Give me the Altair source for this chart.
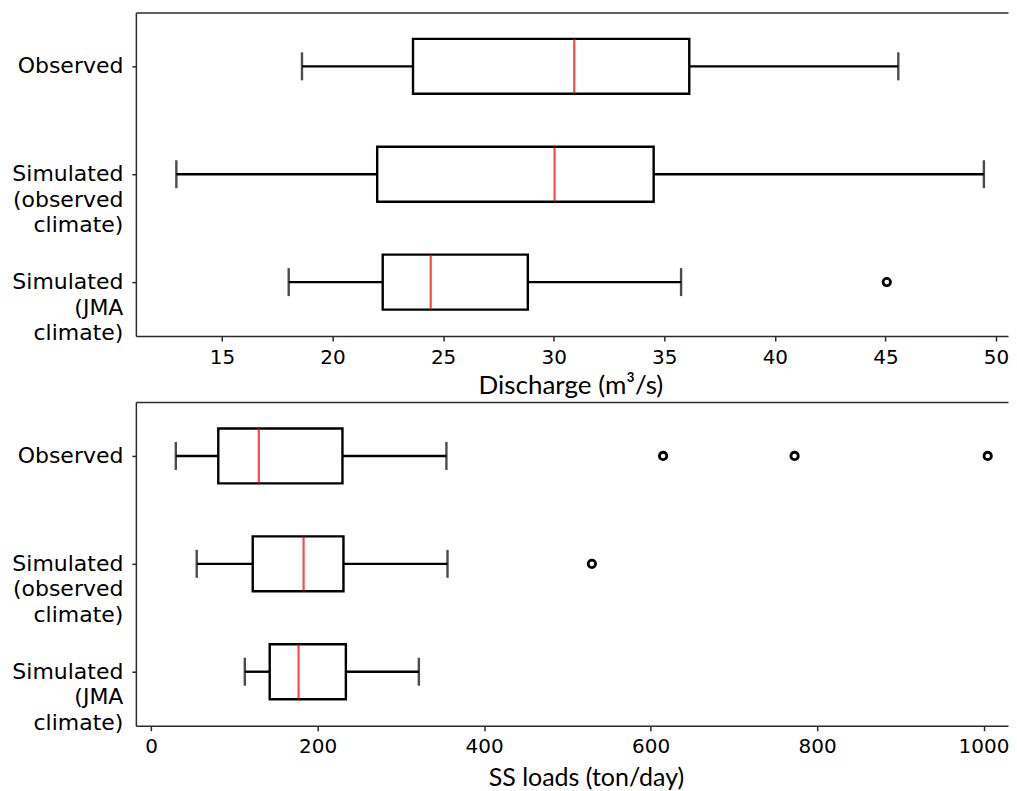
import altair as alt
import pandas as pd

groups = ["Observed", "Simulated (observed climate)", "Simulated (JMA climate)"]

# Discharge (m3/s): whisker low, Q1, median, Q3, whisker high
q_lo = [18.62, 12.94, 18.02]
q_q1 = [23.64, 22.02, 22.27]
q_med = [30.93, 30.04, 24.44]
q_q3 = [36.13, 34.52, 28.83]
q_hi = [45.58, 49.45, 35.76]
q_out_group = ["Simulated (JMA climate)"]
q_out_value = [45.06]
q_ticks = [15, 20, 25, 30, 35, 40, 45, 50]

# SS loads (ton/day)
s_lo = [29.6, 54.7, 112.5]
s_q1 = [80.6, 122.0, 142.4]
s_med = [129.3, 183.1, 177.1]
s_q3 = [229.8, 231.0, 233.9]
s_hi = [354.7, 356.0, 321.6]
s_out_group = ["Observed", "Observed", "Observed", "Simulated (observed climate)"]
s_out_value = [615.0, 773.0, 1005.0, 529.5]
s_ticks = [0, 200, 400, 600, 800, 1000]

PLOT_W = 873
PLOT_H = 324
FRAME = "#2b2b2b"
LW = 2.4


def panel(lo, q1, med, q3, hi, out_g, out_v, domain, ticks, title, title_pad, title_x, title_size):
    stats = pd.DataFrame({"group": groups, "lo": lo, "q1": q1, "med": med, "q3": q3, "hi": hi})
    outl = pd.DataFrame({"group": out_g, "value": out_v})
    xs = alt.Scale(domain=domain, nice=False, zero=False)
    xaxis = alt.Axis(
        values=ticks, format="d", title=title, titlePadding=title_pad, titleX=title_x,
        titleAlign="center", titleFont="Lato", titleFontSize=title_size, titleFontWeight="normal",
        titleColor="black", labelFont="DejaVu Sans", labelFontSize=20, labelColor="black",
        labelPadding=6, tickSize=5, tickWidth=1.5, tickColor=FRAME, domainColor=FRAME,
        domainWidth=1.5, grid=False, labelFlush=False,
    )
    yaxis = alt.Axis(
        title=None, labelExpr="split(datum.label, ' ')", labelFont="DejaVu Sans",
        labelFontSize=22, labelLineHeight=25.5, labelColor="black", labelPadding=9,
        tickSize=4, tickWidth=1.5, tickColor=FRAME, domainColor=FRAME, domainWidth=1.5,
        grid=False,
    )
    y = alt.Y("group:N", sort=groups,
              scale=alt.Scale(domain=groups, paddingInner=0, paddingOuter=0), axis=yaxis)

    def X(f):
        return alt.X(f, scale=xs, axis=xaxis)

    base = alt.Chart(stats)
    w1 = base.mark_rule(color="black", strokeWidth=LW).encode(x=X("lo:Q"), x2="q1:Q", y=y)
    w2 = base.mark_rule(color="black", strokeWidth=LW).encode(x=X("q3:Q"), x2="hi:Q", y=y)
    box = base.mark_bar(size=55, fill="white", stroke="black", strokeWidth=LW).encode(
        x=X("q1:Q"), x2="q3:Q", y=y)
    medm = base.mark_tick(color="#ee0000", size=55, thickness=2.2, orient="vertical").encode(
        x=X("med:Q"), y=y)
    cap_lo = base.mark_tick(color="black", size=28, thickness=LW, orient="vertical").encode(
        x=X("lo:Q"), y=y)
    cap_hi = base.mark_tick(color="black", size=28, thickness=LW, orient="vertical").encode(
        x=X("hi:Q"), y=y)
    pts = alt.Chart(outl).mark_point(shape="circle", size=55, strokeWidth=2.8, color="black",
                                     filled=False, opacity=1).encode(x=X("value:Q"), y=y)
    top = base.mark_point(opacity=0).encode(
        x=alt.X("q1:Q", scale=xs,
                axis=alt.Axis(orient="top", labels=False, ticks=False, title=None,
                              domainColor=FRAME, domainWidth=1.5, grid=False)),
        y=y)
    inner = alt.layer(box, w1, w2, medm, cap_lo, cap_hi, pts)
    return alt.layer(inner, top).resolve_axis(x="independent").properties(
        width=PLOT_W, height=PLOT_H)


top_panel = panel(q_lo, q_q1, q_med, q_q3, q_hi, q_out_group, q_out_value,
                  [11.11, 50.54], q_ticks, "Discharge (m³/s)", 5, 435, 26)
bottom_panel = panel(s_lo, s_q1, s_med, s_q3, s_hi, s_out_group, s_out_value,
                     [-18.4, 1029.4], s_ticks, "SS loads (ton/day)", 8.5, 450.5, 25)

chart = alt.vconcat(top_panel, bottom_panel, spacing=4).configure_view(
    stroke=None
).properties(
    padding={"left": 3, "top": 4, "right": 0, "bottom": 0},
    background="white",
)

chart.save("out.html", embed_options={"renderer": "svg", "actions": False})
